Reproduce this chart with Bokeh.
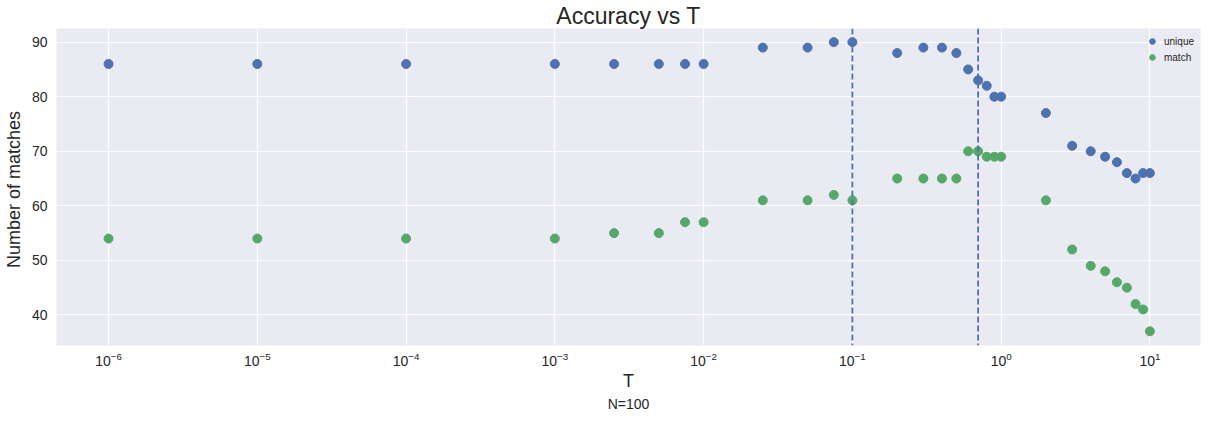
from bokeh.plotting import figure
from bokeh.models import Range1d, FixedTicker, Span, Legend, LegendItem, Title, LogTickFormatter
from bokeh.embed import file_html
from bokeh.resources import INLINE

T = [1e-6, 1e-5, 1e-4, 1e-3, 2.5e-3, 5e-3, 7.5e-3, 1e-2, 2.5e-2, 5e-2, 7.5e-2, 0.1,
     0.2, 0.3, 0.4, 0.5, 0.6, 0.7, 0.8, 0.9, 1.0, 2, 3, 4, 5, 6, 7, 8, 9, 10]
unique = [86, 86, 86, 86, 86, 86, 86, 86, 89, 89, 90, 90,
          88, 89, 89, 88, 85, 83, 82, 80, 80, 77, 71, 70, 69, 68, 66, 65, 66, 66]
match = [54, 54, 54, 54, 55, 55, 57, 57, 61, 61, 62, 61,
         65, 65, 65, 65, 70, 70, 69, 69, 69, 61, 52, 49, 48, 46, 45, 42, 41, 37]
vlines = [0.1, 0.7]
y_ticks = [40, 50, 60, 70, 80, 90]
x_ticks = [1e-6, 1e-5, 1e-4, 1e-3, 1e-2, 1e-1, 1, 10]

FONT = "Liberation Sans"
TXT = "#262626"
BLUE = "#4C72B0"
GREEN = "#55A868"

p = figure(width=1206, height=411, x_axis_type="log", output_backend="svg",
           toolbar_location=None,
           x_range=Range1d(10 ** -6.35, 10 ** 1.34), y_range=Range1d(34.4, 92.5),
           min_border_left=50, min_border_right=6, min_border_top=28, min_border_bottom=0)

p.background_fill_color = "#EAEAF2"
p.border_fill_color = "white"
p.outline_line_color = None
p.grid.grid_line_color = "white"
p.grid.grid_line_width = 1.2
p.xgrid.minor_grid_line_color = None

p.title.text = "Accuracy vs T"
p.title.align = "center"
p.title.text_font = FONT
p.title.text_font_size = "23px"
p.title.text_font_style = "normal"
p.title.text_color = TXT
p.title.text_line_height = 1.0
p.title.standoff = 0

p.xaxis.ticker = FixedTicker(ticks=x_ticks)
p.xaxis.formatter = LogTickFormatter()
p.yaxis.ticker = FixedTicker(ticks=y_ticks)
for ax in (p.xaxis, p.yaxis):
    ax.axis_line_color = None
    ax.major_tick_line_color = None
    ax.minor_tick_line_color = None
    ax.major_tick_out = 0
    ax.major_tick_in = 0
    ax.minor_tick_out = 0
    ax.minor_tick_in = 0
    ax.major_label_text_font = FONT
    ax.major_label_text_font_size = "14px"
    ax.major_label_text_color = TXT
    ax.major_label_text_line_height = 1.0
    ax.axis_label_text_font = FONT
    ax.axis_label_text_font_size = "18px"
    ax.axis_label_text_font_style = "normal"
    ax.axis_label_text_color = TXT
    ax.axis_label_text_line_height = 1.0
p.xaxis.axis_label = "T"
p.yaxis.axis_label = "Number of  matches"
p.xaxis.major_label_standoff = 6
p.xaxis.axis_label_standoff = 2
p.yaxis.major_label_standoff = 9
p.yaxis.axis_label_standoff = 5

sub = Title(text="N=100", align="center", text_font=FONT, text_font_size="14px",
            text_font_style="normal", text_color=TXT, text_line_height=1.0, standoff=0)
p.add_layout(sub, "below")

for v in vlines:
    p.add_layout(Span(location=v, dimension="height", line_color=BLUE,
                      line_dash="6 3", line_width=1.8))

r1 = p.scatter(T, unique, size=9, fill_color=BLUE, line_color=BLUE)
r2 = p.scatter(T, match, size=9, fill_color=GREEN, line_color=GREEN)

legend = Legend(items=[LegendItem(label="unique", renderers=[r1]),
                       LegendItem(label="match", renderers=[r2])],
                location="top_right", background_fill_alpha=0, border_line_color=None,
                label_text_font=FONT, label_text_font_size="10px", label_text_color=TXT,
                glyph_width=14, glyph_height=14, label_height=12, spacing=2,
                padding=4, margin=6)
p.add_layout(legend)

open("out.html", "w").write(file_html(p, INLINE))
